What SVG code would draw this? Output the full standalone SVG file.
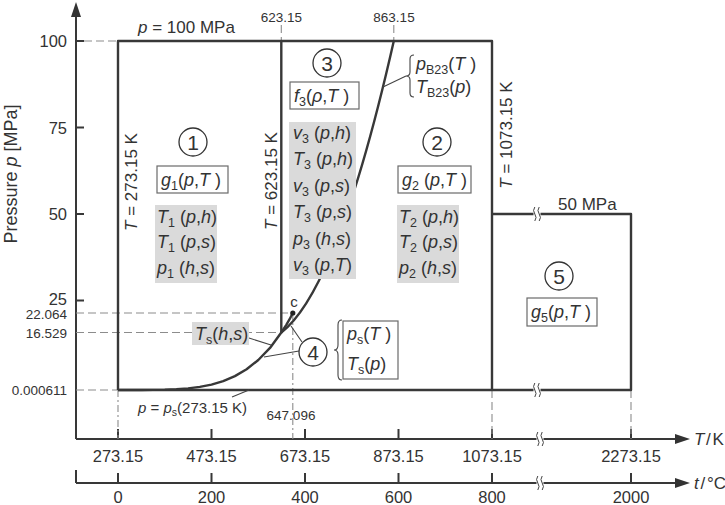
<svg xmlns="http://www.w3.org/2000/svg" width="725" height="505" viewBox="0 0 725 505">
<style>
text{font-family:"Liberation Sans",Arial,sans-serif;fill:#333}
.t16{font-size:16.5px}
.t13{font-size:13.5px}
.t17{font-size:17px}
.fn{font-size:18px}
.i{font-style:italic}
.sb{font-size:12.5px}
.num{font-size:21px;text-anchor:middle}
.ln{stroke:#383838;stroke-width:2.4;fill:none;stroke-linejoin:round}
.ax{stroke:#383838;stroke-width:2;fill:none}
.dsh{stroke:#8c8c8c;stroke-width:1.1;stroke-dasharray:8 4;fill:none}
.dd{stroke:#8c8c8c;stroke-width:1.1;stroke-dasharray:7 3 2 3;fill:none}
.thin{stroke:#444;stroke-width:1.1;fill:none}
.box{fill:#fff;stroke:#6a6a6a;stroke-width:1.2}
.gray{fill:#dadada}
.circ{fill:#fff;stroke:#333;stroke-width:1.3}
</style>
<defs>
<marker id="arr" markerWidth="15" markerHeight="10" refX="5" refY="5" orient="auto" markerUnits="userSpaceOnUse"><path d="M0,0 L15,5 L0,10 Z" fill="#333"/></marker>
<g id="brk"><rect x="-3.5" y="-3" width="7" height="6" fill="#fff"/><path d="M-2.2,-7 Q-4.7,-3.5 -2.2,0 T-2.2,7 M2.2,-7 Q-0.3,-3.5 2.2,0 T2.2,7" stroke="#444" stroke-width="1" fill="none"/></g>
</defs>
<rect width="725" height="505" fill="#fff"/>

<g id="axes">
<path class="ax" d="M76,439 L76,12" marker-end="url(#arr)"/>
<path class="ax" d="M76,439 L680,439" marker-end="url(#arr)"/>
<path class="ax" d="M76,483 L680,483" marker-end="url(#arr)"/>
<path class="ax" d="M76,470 L76,483"/>
<path class="ax" d="M76,41H84M76,127.5H84M76,214H84M76,300.5H84"/>
<path class="ax" d="M118,439V429M211.5,439V429M305,439V429M398.5,439V429M492,439V429M631,439V429"/>
<path class="ax" d="M118,483V473M211.5,483V473M305,483V473M398.5,483V473M492,483V473M631,483V473"/>
<use href="#brk" x="540" y="439"/>
<use href="#brk" x="540" y="483"/>
<g class="t16" text-anchor="end">
<text x="67" y="47">100</text>
<text x="67" y="133.5">75</text>
<text x="67" y="220">50</text>
<text x="67" y="304.5">25</text>
</g>
<g class="t13" text-anchor="end">
<text x="67" y="318.5">22.064</text>
<text x="67" y="338">16.529</text>
<text x="67" y="394.5">0.000611</text>
</g>
<g class="t16" text-anchor="middle">
<text x="118" y="462">273.15</text>
<text x="211.5" y="462">473.15</text>
<text x="305" y="462">673.15</text>
<text x="398.5" y="462">873.15</text>
<text x="492" y="462">1073.15</text>
<text x="631" y="462">2273.15</text>
<text x="118" y="503">0</text>
<text x="211.5" y="503">200</text>
<text x="305" y="503">400</text>
<text x="398.5" y="503">600</text>
<text x="492" y="503">800</text>
<text x="631" y="503">2000</text>
</g>
<text class="t17" x="694" y="445" word-spacing="-3"><tspan class="i">T</tspan> / K</text>
<text class="t17" x="694" y="489" word-spacing="-3"><tspan class="i">t</tspan> / °C</text>
<text font-size="18px" transform="translate(17,174) rotate(-90)" text-anchor="middle">Pressure <tspan class="i">p</tspan> [MPa]</text>
</g>

<g id="guides">
<path class="dsh" d="M84,41H118M76,313H292.8M76,332.5H281.3M76,390H118"/>
<path class="dsh" d="M281.3,25V41M393.8,25V41"/>
<path class="dd" d="M118,390V439M292.8,313V439"/>
<path class="dsh" d="M492,390V439M631,390V439" stroke-dasharray="5 3"/>
<g class="t13" text-anchor="middle">
<text x="281.3" y="21.5">623.15</text>
<text x="394" y="21.5">863.15</text>
<text x="291" y="419.5">647.096</text>
</g>
</g>

<g id="connectors">
<path class="ln" d="M118,390V41H492V390M118,390H631V214H492M281.3,41V332.5"/>
<path class="ln" d="M118,390 L141.4,389.96 L164.75,389.65 L176.4,389.19 L188.1,388.34 L199.8,386.88 L211.5,384.57 L223.2,381.1 L234.9,376.12 L246.6,369.26 L258.3,360.03 L270,347.96 L281.3,332.5 L286.3,324.86 L289.6,319.2 L292.8,313"/>
<path class="ln" d="M281.3,332.5 Q337.7,289.1 393.8,41"/>
<use href="#brk" x="537" y="214"/>
<use href="#brk" x="537" y="390"/>
<circle cx="292.8" cy="313" r="2.6" fill="#222"/>
<path class="thin" d="M406,76 L383,87"/>
<path class="thin" d="M249,338 L271,345"/>
<path class="thin" d="M302,342 L291,326M299,351 L264,357"/>
<path class="thin" d="M232,397 L249,390"/>
<path class="thin" d="M414,55 Q410,55 410,59 L410,72 Q410,76 406,76 Q410,76 410,80 L410,93 Q410,97 414,97"/>
<path class="thin" d="M342,320 Q338,320 338,325 L338,345 Q338,350 334,350 Q338,350 338,355 L338,375 Q338,380 342,380"/>
</g>

<g id="labels">
<text class="t17" x="138" y="33"><tspan class="i">p</tspan> = 100 MPa</text>
<text class="t17" x="558" y="210">50 MPa</text>
<text class="t17" transform="translate(137,182) rotate(-90)" text-anchor="middle"><tspan class="i">T</tspan> = 273.15 K</text>
<text class="t17" transform="translate(277,181) rotate(-90)" text-anchor="middle"><tspan class="i">T</tspan> = 623.15 K</text>
<text class="t17" transform="translate(511.5,135) rotate(-90)" text-anchor="middle"><tspan class="i">T</tspan> = 1073.15 K</text>
<text font-size="15px" x="294" y="306.5" text-anchor="middle">c</text>
<text font-size="15px" x="138" y="413"><tspan class="i">p</tspan> = <tspan class="i">p</tspan><tspan font-size="10.5px" dy="3">s</tspan><tspan dy="-3">(273.15 K)</tspan></text>
</g>

<g id="region1">
<circle class="circ" cx="193" cy="142" r="14"/>
<text class="num" x="193" y="149.5">1</text>
<rect class="box" x="157" y="166" width="71" height="27"/>
<text class="fn" x="161" y="186"><tspan class="i">g</tspan><tspan class="sb" dy="4">1</tspan><tspan dy="-4">(</tspan><tspan class="i">p</tspan>,<tspan class="i">T</tspan> )</text>
<rect class="gray" x="155" y="205" width="62" height="78"/>
<text class="fn" x="157" y="222.5"><tspan class="i">T</tspan><tspan class="sb" dy="4">1</tspan><tspan dy="-4"> (</tspan><tspan class="i">p</tspan>,<tspan class="i">h</tspan>)</text>
<text class="fn" x="157" y="248"><tspan class="i">T</tspan><tspan class="sb" dy="4">1</tspan><tspan dy="-4"> (</tspan><tspan class="i">p</tspan>,<tspan class="i">s</tspan>)</text>
<text class="fn" x="157" y="273.5"><tspan class="i">p</tspan><tspan class="sb" dy="4">1</tspan><tspan dy="-4"> (</tspan><tspan class="i">h</tspan>,<tspan class="i">s</tspan>)</text>
</g>

<g id="region2">
<circle class="circ" cx="437" cy="142" r="14"/>
<text class="num" x="437" y="149.5">2</text>
<rect class="box" x="398" y="166" width="73" height="27"/>
<text class="fn" x="402" y="186"><tspan class="i">g</tspan><tspan class="sb" dy="4">2</tspan><tspan dy="-4"> (</tspan><tspan class="i">p</tspan>,<tspan class="i">T</tspan> )</text>
<rect class="gray" x="397" y="205" width="62" height="78"/>
<text class="fn" x="399" y="222.5"><tspan class="i">T</tspan><tspan class="sb" dy="4">2</tspan><tspan dy="-4"> (</tspan><tspan class="i">p</tspan>,<tspan class="i">h</tspan>)</text>
<text class="fn" x="399" y="248"><tspan class="i">T</tspan><tspan class="sb" dy="4">2</tspan><tspan dy="-4"> (</tspan><tspan class="i">p</tspan>,<tspan class="i">s</tspan>)</text>
<text class="fn" x="399" y="273.5"><tspan class="i">p</tspan><tspan class="sb" dy="4">2</tspan><tspan dy="-4"> (</tspan><tspan class="i">h</tspan>,<tspan class="i">s</tspan>)</text>
</g>

<g id="region3">
<circle class="circ" cx="327" cy="63" r="14"/>
<text class="num" x="327" y="70.5">3</text>
<rect class="box" x="290" y="82" width="69" height="27"/>
<text class="fn" x="294" y="102"><tspan class="i">f</tspan><tspan class="sb" dy="4">3</tspan><tspan dy="-4">(</tspan><tspan class="i">ρ</tspan>,<tspan class="i">T</tspan> )</text>
<rect class="gray" x="289" y="122" width="67" height="157"/>
<text class="fn" x="293" y="138.5"><tspan class="i">v</tspan><tspan class="sb" dy="4">3</tspan><tspan dy="-4"> (</tspan><tspan class="i">p</tspan>,<tspan class="i">h</tspan>)</text>
<text class="fn" x="293" y="165"><tspan class="i">T</tspan><tspan class="sb" dy="4">3</tspan><tspan dy="-4"> (</tspan><tspan class="i">p</tspan>,<tspan class="i">h</tspan>)</text>
<text class="fn" x="293" y="191.5"><tspan class="i">v</tspan><tspan class="sb" dy="4">3</tspan><tspan dy="-4"> (</tspan><tspan class="i">p</tspan>,<tspan class="i">s</tspan>)</text>
<text class="fn" x="293" y="218"><tspan class="i">T</tspan><tspan class="sb" dy="4">3</tspan><tspan dy="-4"> (</tspan><tspan class="i">p</tspan>,<tspan class="i">s</tspan>)</text>
<text class="fn" x="293" y="244.5"><tspan class="i">p</tspan><tspan class="sb" dy="4">3</tspan><tspan dy="-4"> (</tspan><tspan class="i">h</tspan>,<tspan class="i">s</tspan>)</text>
<text class="fn" x="293" y="271"><tspan class="i">v</tspan><tspan class="sb" dy="4">3</tspan><tspan dy="-4"> (</tspan><tspan class="i">p</tspan>,<tspan class="i">T</tspan>)</text>
</g>

<g id="b23">
<text class="fn" x="416" y="70"><tspan class="i">p</tspan><tspan class="sb" dy="4">B23</tspan><tspan dy="-4">(</tspan><tspan class="i">T</tspan> )</text>
<text class="fn" x="416" y="93"><tspan class="i">T</tspan><tspan class="sb" dy="4">B23</tspan><tspan dy="-4">(</tspan><tspan class="i">p</tspan>)</text>
</g>

<g id="region4">
<rect class="gray" x="192" y="322" width="57" height="23"/>
<text class="fn" x="195" y="340"><tspan class="i">T</tspan><tspan class="sb" dy="4">s</tspan><tspan dy="-4">(</tspan><tspan class="i">h</tspan>,<tspan class="i">s</tspan>)</text>
<circle class="circ" cx="313" cy="352" r="14"/>
<text class="num" x="313" y="359.5">4</text>
<rect class="box" x="343" y="321" width="55" height="58"/>
<text class="fn" x="347" y="340"><tspan class="i">p</tspan><tspan class="sb" dy="4">s</tspan><tspan dy="-4">(</tspan><tspan class="i">T</tspan> )</text>
<text class="fn" x="347" y="370"><tspan class="i">T</tspan><tspan class="sb" dy="4">s</tspan><tspan dy="-4">(</tspan><tspan class="i">p</tspan>)</text>
</g>

<g id="region5">
<circle class="circ" cx="559" cy="276" r="14"/>
<text class="num" x="559" y="283.5">5</text>
<rect class="box" x="527" y="298" width="70" height="28"/>
<text class="fn" x="531" y="318"><tspan class="i">g</tspan><tspan class="sb" dy="4">5</tspan><tspan dy="-4">(</tspan><tspan class="i">p</tspan>,<tspan class="i">T</tspan> )</text>
</g>
</svg>
